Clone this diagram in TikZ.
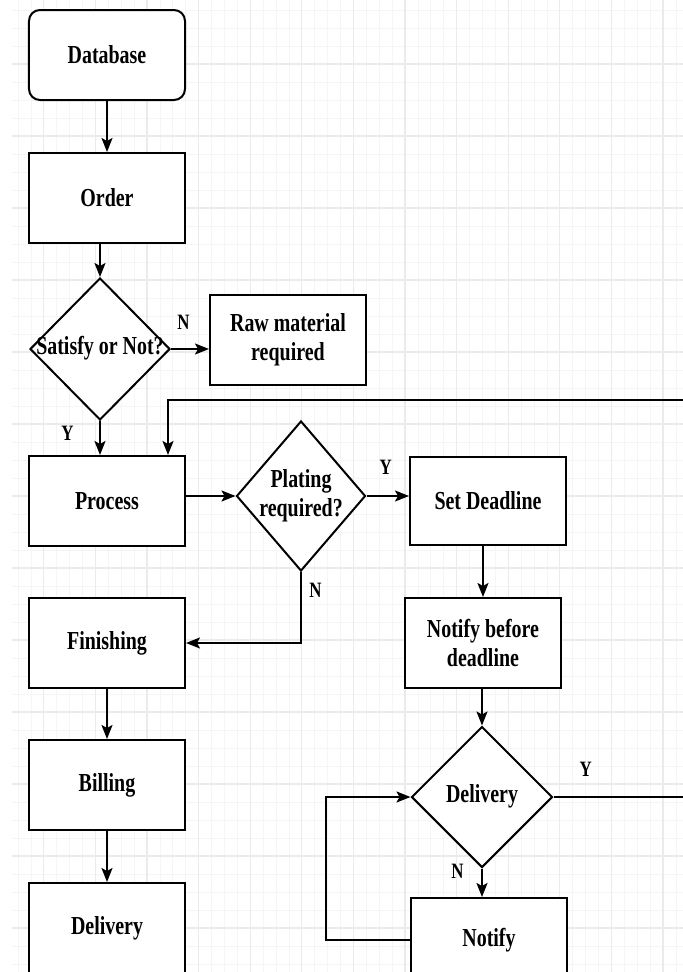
\documentclass[tikz,border=0pt]{standalone}
\usepackage{fontspec}
\setmainfont{Liberation Serif}[FakeStretch=0.77]
\usetikzlibrary{arrows.meta,shapes.geometric,positioning}

\newcommand{\dtxt}[1]{\makebox[0pt]{\begin{tabular}{@{}c@{}}#1\end{tabular}}}

\tikzset{
  procbox/.style={ draw, line width=2bp, fill=white, minimum width=156bp, minimum height=90bp, align=center, font=\fontsize{26}{29}\selectfont\bfseries }
}
\tikzset{
  dbbox/.style={ procbox, rounded corners=11bp }
}
\tikzset{
  decis/.style={ draw, diamond, line width=2bp, fill=white, inner sep=0pt, font=\fontsize{26}{29}\selectfont\bfseries }
}
\tikzset{
  yn/.style={ font=\fontsize{22}{24}\selectfont\bfseries }
}
\tikzset{
  arr/.style={ -{Stealth[length=14bp,width=11bp,inset=3bp]}, line width=2bp }
}
\tikzset{
  gminor/.style={ draw=black!4, line width=0.8bp },
  gmajor/.style={ draw=black!8, line width=1.2bp }
}

\begin{document}
\begin{tikzpicture}[x=1bp,y=-1bp]
      \useasboundingbox (0,0) rectangle (683,972);
      \fill[white] (0,0) rectangle (683,972);

      % background grid
      \foreach \i in {0,...,51} \draw[gminor] ({18+12.9*\i},0) -- ({18+12.9*\i},972);
      \foreach \i in {0,...,53} \draw[gminor] (12,{10+18*\i}) -- (683,{10+18*\i});
      \foreach \i in {0,...,12} \draw[gmajor] ({43.8+51.6*\i},0) -- ({43.8+51.6*\i},972);
      \foreach \i in {0,...,12} \draw[gmajor] (12,{64+72*\i}) -- (683,{64+72*\i});

      % left column
      \node[dbbox] (db) at (107, 55) {Database};
      \node[procbox] (order) at (107, 198) {Order};
      \node[decis, minimum width=140bp, minimum height=142bp] (sat) at (100, 349) {\dtxt{Satisfy or Not?}};
      \node[procbox] (raw) at (288, 340) {Raw material\\required};
      \node[procbox] (proc) at (107, 501) {Process};
      \node[procbox] (fin) at (107, 643) {Finishing};
      \node[procbox] (bill) at (107, 785) {Billing};
      \node[procbox] (deliv) at (107, 928) {Delivery};

      % right column
      \node[decis, minimum width=129bp, minimum height=150bp] (plat) at (301, 496) {\dtxt{Plating\\required?}};
      \node[procbox, minimum height=88bp] (set) at (488, 501) {Set Deadline};
      \node[procbox] (nbd) at (483, 643) {Notify before\\deadline};
      \node[decis, minimum width=141bp, minimum height=141bp] (dd) at (482, 797) {\dtxt{Delivery}};
      \node[procbox, minimum height=84bp] (noti) at (489, 940) {Notify};

      \coordinate (edge) at (700, 400);

      \draw[arr] (db) -- (order);
      \draw[arr] (sat.north |- order.south) -- (sat.north);
      \draw[arr] (sat.east) -- node[yn, above=15bp, pos=0.33] {N} (sat.east -| raw.west);
      \draw[arr] (sat.south) -- node[yn, left=22bp, pos=0.36] {Y} (sat.south |- proc.north);
      \draw[arr] (proc.east |- plat.west) -- (plat.west);
      \draw[arr] (plat.east) -- node[yn, above=17bp, pos=0.45] {Y} (plat.east -| set.west);
      \draw[arr] (plat.south) |- node[yn, right=4bp, pos=0.13] {N} (fin.east);
      \draw[arr] (fin) -- (bill);
      \draw[arr] (bill) -- (deliv);
      \draw[arr] (nbd.north |- set.south) -- (nbd.north);
      \draw[arr] (dd.north |- nbd.south) -- (dd.north);
      \draw[arr] (dd.south) -- node[yn, left=14bp, pos=0.09] {N} (dd.south |- noti.north);
      \draw[arr] (noti.west) -- ++(-84bp,0) |- (dd.west);
      \draw[arr] (dd.east) -- node[yn, above=16bp, pos=0.22] {Y} (dd.east -| edge) -- (edge) -| ([xshift=61bp]proc.north);
    \end{tikzpicture}
\end{document}
